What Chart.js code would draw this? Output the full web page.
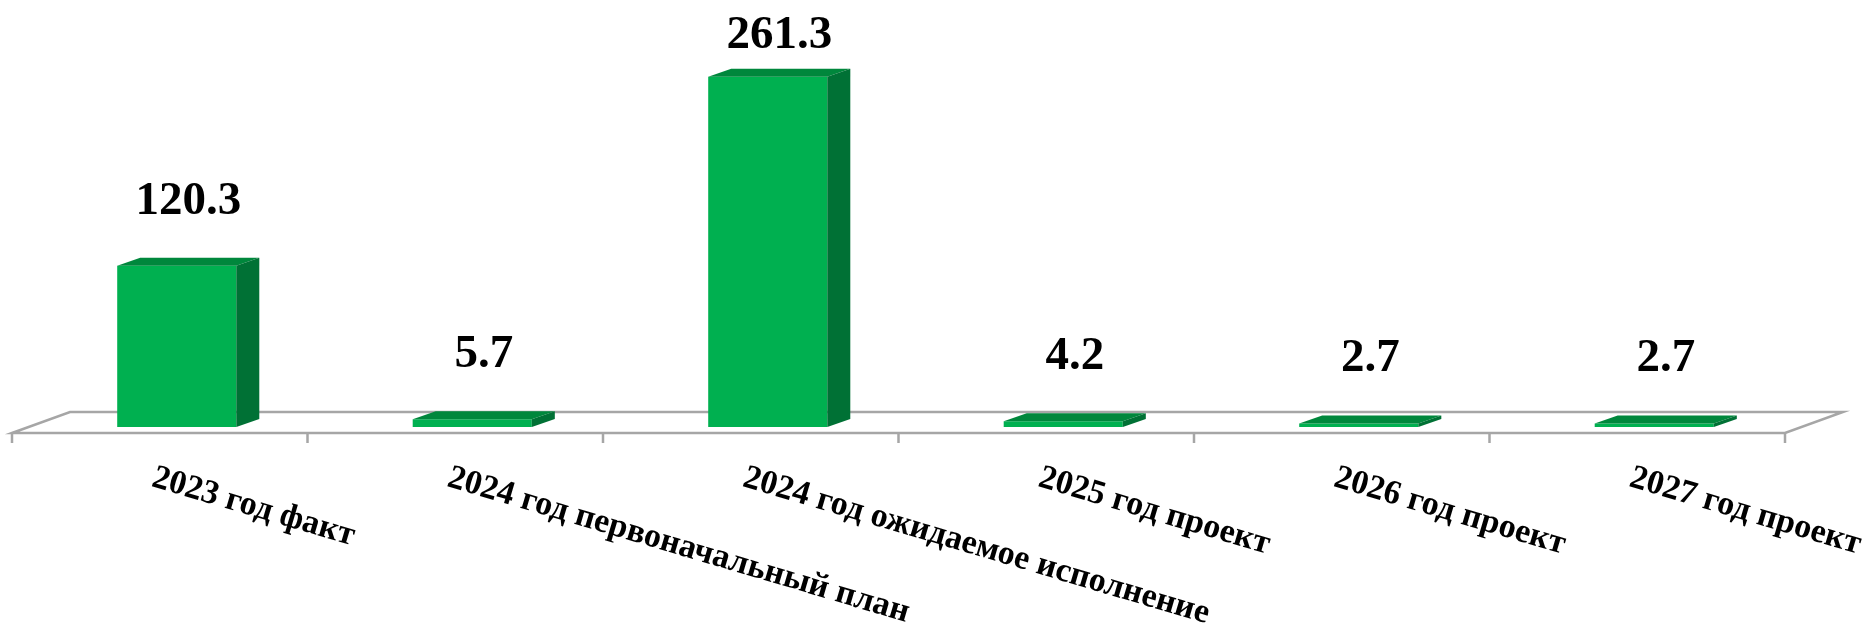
<!DOCTYPE html>
<html>
<head>
<meta charset="utf-8">
<script src="https://cdn.jsdelivr.net/npm/chart.js@4"></script>
<style>
  body { margin: 0; background: #fff; }
  #wrap { width: 1872px; height: 630px; }
</style>
</head>
<body>
<div id="wrap"><canvas id="myChart"></canvas></div>
<script>
const categories = ['2023 год факт', '2024 год первоначальный план', '2024 год ожидаемое исполнение',
  '2025 год проект', '2026 год проект', '2027 год проект'];
const values = [120.3, 5.7, 261.3, 4.2, 2.7, 2.7];

const FONT = '"Liberation Serif", "Times New Roman", serif';
const DX = 23, DY = 8;           // bar depth
const FLOOR_DX = 58, FLOOR_DY = 21;

const pseudo3d = {
  id: 'pseudo3d',
  beforeDatasetsDraw(chart) {
    const { ctx, chartArea: a, scales: { y } } = chart;
    const y0 = y.getPixelForValue(0);
    const fx0 = a.left - 17, fx1 = a.right - 17, fy = y0 + 6;
    ctx.save();
    ctx.strokeStyle = '#a6a6a6';
    ctx.lineWidth = 2.5;
    ctx.beginPath();
    ctx.moveTo(fx0, fy);
    ctx.lineTo(fx0 + FLOOR_DX, fy - FLOOR_DY);
    ctx.lineTo(fx1 + FLOOR_DX, fy - FLOOR_DY);
    ctx.lineTo(fx1, fy);
    ctx.closePath();
    ctx.stroke();
    const n = categories.length;
    ctx.beginPath();
    for (let i = 0; i <= n; i++) {
      const tx = fx0 + i * (fx1 - fx0) / n;
      ctx.moveTo(tx, fy);
      ctx.lineTo(tx, fy + 10);
    }
    ctx.stroke();
    ctx.restore();
  },
  afterDatasetsDraw(chart) {
    const { ctx, scales: { x, y } } = chart;
    const meta = chart.getDatasetMeta(0);
    const y0 = y.getPixelForValue(0);
    ctx.save();
    meta.data.forEach((bar, i) => {
      const l = bar.x - bar.width / 2, r = bar.x + bar.width / 2, t = bar.y;
      // top face
      ctx.fillStyle = '#00873c';
      ctx.beginPath();
      ctx.moveTo(l, t); ctx.lineTo(l + DX, t - DY); ctx.lineTo(r + DX, t - DY); ctx.lineTo(r, t);
      ctx.closePath(); ctx.fill();
      // side face
      ctx.fillStyle = '#007135';
      ctx.beginPath();
      ctx.moveTo(r, t); ctx.lineTo(r + DX, t - DY); ctx.lineTo(r + DX, y0 - DY); ctx.lineTo(r, y0);
      ctx.closePath(); ctx.fill();

      // value label
      ctx.fillStyle = '#000';
      ctx.font = 'bold 47px ' + FONT;
      ctx.textAlign = 'center';
      ctx.textBaseline = 'alphabetic';
      ctx.fillText(values[i].toFixed(1), bar.x + DX / 2, Math.max(t - 52, 48));

      // category label
      const fy = y0 + 6;
      ctx.save();
      ctx.translate(x.getPixelForValue(i) - 19, fy + 28);
      ctx.rotate(16.5 * Math.PI / 180);
      ctx.font = 'bold 34px ' + FONT;
      ctx.textAlign = 'left';
      ctx.textBaseline = 'top';
      ctx.fillText(categories[i], 0, 0);
      ctx.restore();
    });
    ctx.restore();
  }
};

new Chart(document.getElementById('myChart'), {
  type: 'bar',
  data: {
    labels: categories,
    datasets: [{
      data: values,
      backgroundColor: '#00b050',
      borderWidth: 0,
      barPercentage: 0.403,
      categoryPercentage: 1
    }]
  },
  options: {
    responsive: true,
    maintainAspectRatio: false,
    animation: false,
    layout: { padding: { left: 29, right: 70, top: 25, bottom: 203 } },
    scales: {
      x: { display: false },
      y: { display: false, min: 0, max: 300 }
    },
    plugins: {
      legend: { display: false },
      tooltip: { enabled: false }
    }
  },
  plugins: [pseudo3d]
});
</script>
</body>
</html>
